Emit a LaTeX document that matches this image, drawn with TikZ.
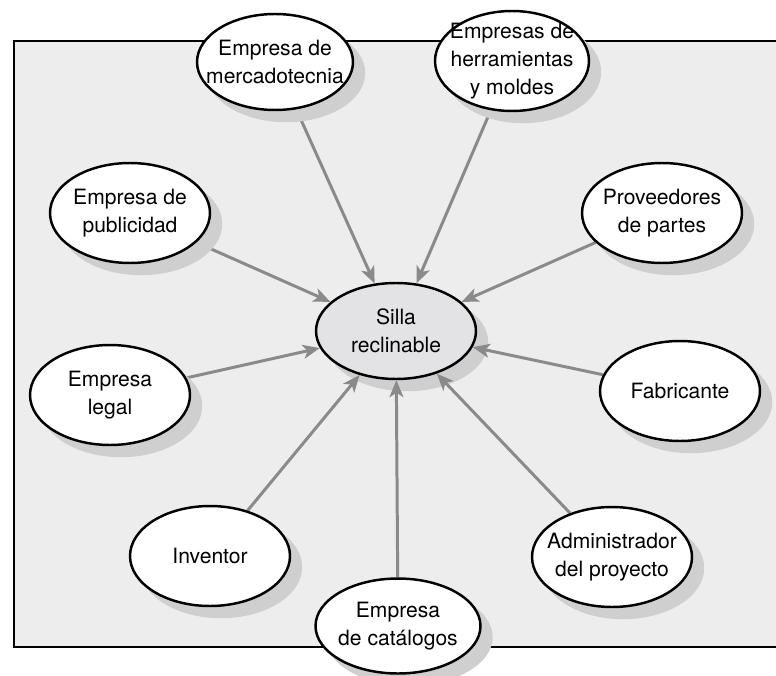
\documentclass[tikz,border=0pt]{standalone}
\usepackage{fontspec}
\setmainfont{TeX Gyre Heros}
\usetikzlibrary{shapes.geometric,arrows.meta,calc}
\definecolor{panelgray}{RGB}{237,237,237}
\definecolor{hubgray}{RGB}{227,227,229}
\definecolor{linkgray}{RGB}{138,138,140}
\pgfdeclarelayer{panel}
\pgfdeclarelayer{hub}
\pgfdeclarelayer{links}
\pgfdeclarelayer{shades}
\pgfsetlayers{panel,hub,links,shades,main}

\begin{document}
\begin{tikzpicture}[x=0.02cm, y=-0.02cm,
    party/.style={ellipse, draw=black, line width=1.4pt, fill=white,
        inner xsep=-0.35cm, inner ysep=-0.3cm,
        minimum width=3.2cm, minimum height=2cm, align=center,
        font=\fontsize{12}{16}\selectfont},
    hubnode/.style={party, fill=hubgray, minimum height=1.92cm},
    castshade/.style={fill=black!19},
    link/.style={draw=linkgray, line width=1.7pt, -{Stealth[length=0.34cm, width=0.28cm, inset=0.09cm]}}]
    \useasboundingbox (0,0) rectangle (776,675);
    % Panel
    \begin{pgfonlayer}{panel}
        \draw[fill=panelgray, line width=1.4pt] (14,41) rectangle (800,647);
    \end{pgfonlayer}
    % Product
    \begin{pgfonlayer}{hub}
        \node[hubnode] (silla) at (396,331) {Silla\\reclinable};
    \end{pgfonlayer}
    % Stakeholders
    \node[party, minimum width=3.12cm, minimum height=1.92cm] (mercadotecnia) at (275,62) {Empresa de\\mercadotecnia};
    \node[party, minimum width=3.08cm] (herramientas) at (512,61) {Empresas de\\herramientas\\y moldes};
    \node[party] (publicidad) at (130,213) {Empresa de\\publicidad};
    \node[party] (proveedores) at (662,213) {Proveedores\\de partes};
    \node[party] (legal) at (110,395) {Empresa\\legal};
    \node[party] (fabricante) at (680,391) {Fabricante};
    \node[party] (inventor) at (210,556) {Inventor};
    \node[party] (administrador) at (612,557) {Administrador\\del proyecto};
    \node[party, minimum width=3.3cm, minimum height=1.9cm] (catalogos) at (398,626) {Empresa\\de catálogos};
    % Shadows
    \begin{pgfonlayer}{panel}
        \fill[castshade] let \p0=(silla.center), \p1=(silla.east), \p2=(silla.north) in
            ([shift={(0.22cm,-0.22cm)}]silla.center) ellipse ({\x1-\x0} and {\y2-\y0});
    \end{pgfonlayer}
    \begin{pgfonlayer}{shades}
        \foreach \who in {mercadotecnia,herramientas,publicidad,proveedores,legal,fabricante,inventor,administrador,catalogos}
            \fill[castshade] let \p0=(\who.center), \p1=(\who.east), \p2=(\who.north) in
                ([shift={(0.22cm,-0.22cm)}]\who.center) ellipse ({\x1-\x0} and {\y2-\y0});
    \end{pgfonlayer}
    % Links
    \begin{pgfonlayer}{links}
        \foreach \src in {mercadotecnia,herramientas,publicidad,proveedores,legal,fabricante,inventor,administrador,catalogos}
            \draw[link] (\src) -- (silla);
    \end{pgfonlayer}
\end{tikzpicture}
\end{document}
